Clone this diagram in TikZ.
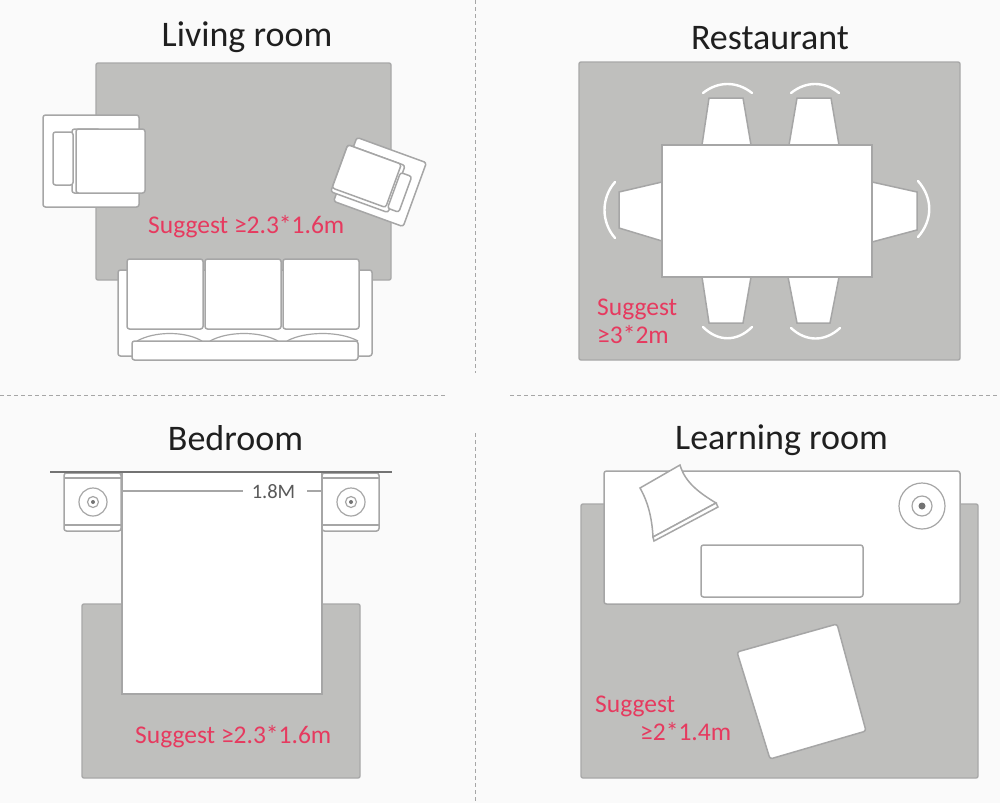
\documentclass[tikz,border=0pt]{standalone}
\usepackage{fontspec}
\setmainfont{Carlito}
\definecolor{rugc}{HTML}{BFBFBD}
\definecolor{edgec}{HTML}{A8A8A8}
\definecolor{linec}{HTML}{A6A6A6}
\definecolor{redc}{HTML}{E63A5F}
\definecolor{bgc}{HTML}{FAFAFA}
\tikzset{
  rug/.style={fill=rugc, draw=edgec, line width=1.4pt, rounded corners=2pt},
  item/.style={fill=white, draw=linec, line width=1.5pt, rounded corners=2.5pt},
  sharp/.style={fill=white, draw=linec, line width=1.5pt},
  seatarc/.style={draw=white, line width=2.4pt, line cap=round},
  thin line/.style={draw=linec, line width=1.2pt},
  divider/.style={draw=gray!70, line width=0.8pt, dash pattern=on 4pt off 3pt},
  title/.style={font=\fontsize{36}{40}\selectfont, text=black!88, inner sep=0pt, anchor=base},
  hint/.style={font=\fontsize{25.5}{30}\selectfont, text=redc, inner sep=0pt, anchor=base west}
}
\begin{document}
\begin{tikzpicture}[x=1pt, y=-1pt]
\useasboundingbox (0,0) rectangle (1000,803);
\fill[bgc] (0,0) rectangle (1000,803);
\draw[divider] (475,0) -- (475,373);
\draw[divider] (475,433) -- (475,803);
\draw[divider] (0,395) -- (446,395);
\draw[divider] (510,395) -- (1000,395);

\node[title] (livingtitle) at (247,46) {Living room};
\node[title] (restauranttitle) at (770,49) {Restaurant};
\node[title] (bedroomtitle) at (235.5,450) {Bedroom};
\node[title] (learningtitle) at (781.5,449) {Learning room};

\draw[rug] (96,63) rectangle (391,280);
\draw[item] (43,115) rectangle (139,207);
\draw[item] (72,129) rectangle (100,193);
\draw[item] (76,129) rectangle (145,193);
\draw[item] (53,132) rectangle (73,185);
\begin{scope}[shift={(380,182)}, rotate=-20]
\draw[item] (-37,-34) rectangle (37,34);
\draw[item] (-43,-24) rectangle (18,26);
\draw[item] (-43,-24) rectangle (14,22);
\draw[item] (16,-16) rectangle (28,22);
\end{scope}
\draw[item] (118,270) rectangle (372,356);
\draw[item] (127,259) rectangle (203,329);
\draw[item] (205,259) rectangle (281,329);
\draw[item] (283,259) rectangle (359,329);
\draw[thin line] (137,341) .. controls (155,331) and (185,331) .. (202,341);
\draw[thin line] (210,341) .. controls (228,331) and (260,331) .. (278,341);
\draw[thin line] (287,341) .. controls (305,331) and (340,331) .. (358,341);
\draw[item] (132,341) rectangle (358,360);
\node[hint] (livinghint) at (148,233) {Suggest ≥2.3*1.6m};

\draw[rug] (579,62) rectangle (960,360);
\draw[sharp] (702,145) -- (709,98) -- (743,98) -- (751,145);
\draw[sharp] (789,145) -- (797,98) -- (831,98) -- (839,145);
\draw[sharp] (702,277) -- (709,323) -- (743,323) -- (751,277);
\draw[sharp] (788,277) -- (797,323) -- (830,323) -- (839,277);
\draw[sharp] (662,182) -- (619,192) -- (619,228) -- (662,241);
\draw[sharp] (872,182) -- (917,192) -- (917,230) -- (872,242);
\draw[sharp] (662,145) rectangle (872,277);
\draw[seatarc] (703,93) .. controls (718,81) and (737,81) .. (752,93);
\draw[seatarc] (791,93) .. controls (806,81) and (824,81) .. (839,93);
\draw[seatarc] (703,327) .. controls (718,342) and (737,342) .. (752,327);
\draw[seatarc] (791,328) .. controls (806,342) and (825,342) .. (840,328);
\draw[seatarc] (615,182) .. controls (601,198) and (601,222) .. (615,238);
\draw[seatarc] (918,181) .. controls (933,198) and (933,220) .. (918,237);
\node[hint] (restauranthint) at (597,315) {Suggest};
\node[hint] (restaurantsize) at (597,343) {≥3*2m};

\draw[rug] (82,604) rectangle (360,778);
\draw[item] (64,473) rectangle (121,531);
\draw[thin line] (64,478) -- (121,478);
\draw[thin line] (64,525) -- (121,525);
\draw[item] (322,473) rectangle (379,531);
\draw[thin line] (322,478) -- (379,478);
\draw[thin line] (322,525) -- (379,525);
\draw[thin line] (93,502) circle (14);
\draw[thin line] (93,502) circle (5.5);
\fill[black!55] (93,502) circle (2);
\draw[thin line] (351,502) circle (14);
\draw[thin line] (351,502) circle (5.5);
\fill[black!55] (351,502) circle (2);
\draw[sharp] (122,472) rectangle (322,694);
\draw[draw=black!55, line width=1.6pt] (50,472) -- (392,472);
\node[font=\fontsize{20.5}{24}\selectfont, text=black!65, inner sep=0pt] (bedwidth) at (273.5,492) {1.8M};
\coordinate (bedleft) at (122,491);
\coordinate (gapleft) at (243,491);
\coordinate (gapright) at (307,491);
\coordinate (bedright) at (322,491);
\draw[thin line] (bedleft) -- (gapleft);
\draw[thin line] (gapright) -- (bedright);
\node[hint] (bedroomhint) at (135,743) {Suggest ≥2.3*1.6m};

\draw[rug] (581,504) rectangle (978,778);
\draw[item] (604,471) rectangle (960,604);
\draw[item] (701,545) rectangle (863,597);
\draw[thin line] (922,506) circle (23);
\draw[thin line] (922,506) circle (10);
\fill[black!55] (922,506) circle (3.5);
\draw[sharp] (640,488) -- (680,465) .. controls (685,482) and (698,492) .. (716,503) -- (653,537) .. controls (652,518) and (648,502) .. (640,488) -- cycle;
\draw[sharp] (653,537) -- (716,503) -- (718,507) -- (654,541) -- cycle;
\draw[item] (737,652) -- (837,624) -- (866,731) -- (770,759) -- cycle;
\node[hint] (learninghint) at (595,712) {Suggest};
\node[hint] (learningsize) at (640,740) {≥2*1.4m};
\end{tikzpicture}
\end{document}
